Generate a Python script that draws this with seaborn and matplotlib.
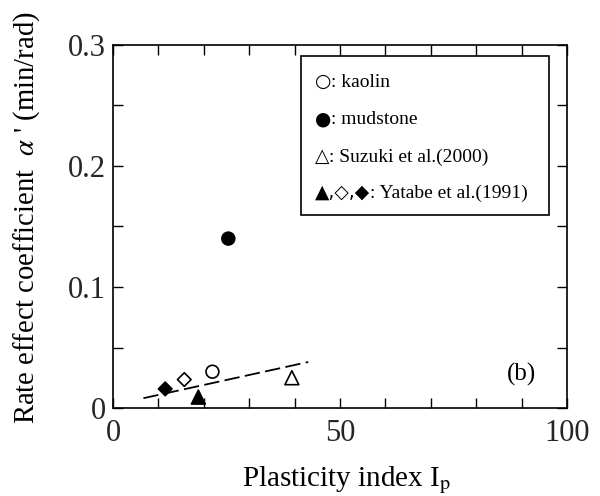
import matplotlib
matplotlib.use("Agg")
import matplotlib.pyplot as plt
from matplotlib.patches import Rectangle
from matplotlib.ticker import MultipleLocator, FixedLocator, FixedFormatter
import seaborn as sns
import pandas as pd

# ---- data ----
plasticity = [21.9, 25.4, 39.4, 18.8, 15.7, 11.5]
alpha_coef = [0.030, 0.140, 0.025, 0.009, 0.0235, 0.0158]
fill_kind = ["open", "filled", "open", "filled", "open", "filled"]
shape_kind = ["circle", "circle", "triangle", "triangle", "diamond", "diamond"]

trend_x = [6.7, 43.0]
trend_y = [0.0081, 0.0380]

legend_symbols = ["○", "●", "△", "▲,◇,◆"]
legend_names = [": kaolin", ": mudstone", ": Suzuki et al.(2000)",
                ": Yatabe et al.(1991)"]
x_tick_vals = [0, 50, 100]
x_tick_text = ["0", "50", "100"]
y_tick_vals = [0, 0.1, 0.2, 0.3]
y_tick_text = ["0", "0.1", "0.2", "0.3"]

df = pd.DataFrame({"Ip": plasticity, "alpha": alpha_coef,
                   "fill": fill_kind, "shape": shape_kind})
trend = pd.DataFrame({"Ip": trend_x, "alpha": trend_y})

sns.set_theme(style="white")
plt.rcParams["font.family"] = ["Liberation Serif", "DejaVu Sans"]
plt.rcParams["mathtext.fontset"] = "stix"

fig = plt.figure(figsize=(6.0, 4.96), dpi=100)
ax = fig.add_axes([113 / 600, 1 - 408 / 496, (567 - 113) / 600, (408 - 45) / 496])

sns.lineplot(data=trend, x="Ip", y="alpha", ax=ax, color="black",
             linewidth=1.3, dashes=False, legend=False)
ax.lines[-1].set_dashes((8.5, 3.0))

sns.scatterplot(data=df, x="Ip", y="alpha", hue="fill", style="shape",
                size="shape",
                sizes={"circle": 85, "triangle": 100, "diamond": 48},
                palette={"open": "white", "filled": "black"},
                markers={"circle": "o", "triangle": "^", "diamond": "D"},
                edgecolor="black", linewidth=1.2, ax=ax, legend=False,
                zorder=3)

ax.set_xlim(0, 100)
ax.set_ylim(0, 0.3)
ax.xaxis.set_major_locator(FixedLocator(x_tick_vals))
ax.xaxis.set_major_formatter(FixedFormatter(x_tick_text))
ax.xaxis.set_minor_locator(MultipleLocator(10))
ax.yaxis.set_major_locator(FixedLocator(y_tick_vals))
ax.yaxis.set_major_formatter(FixedFormatter(y_tick_text))
ax.yaxis.set_minor_locator(MultipleLocator(0.05))

ax.tick_params(axis="both", which="both", direction="in", top=True, right=True,
               bottom=True, left=True, color="black", width=1.0, length=7)
ax.tick_params(axis="x", which="major", labelsize=22, pad=8)
ax.tick_params(axis="y", which="major", labelsize=22, pad=5)
for sp in ax.spines.values():
    sp.set_color("black")
    sp.set_linewidth(1.2)

ax.set_xlabel(r"Plasticity index I$_\mathrm{p}$", fontsize=21, color="black")
ax.xaxis.set_label_coords(0.515, -0.155)
ax.set_ylabel(r"Rate effect coefficient  $\alpha$ ' (min/rad)", fontsize=20.6,
              color="black")
ax.yaxis.set_label_coords(-0.157, 0.525)

ax.text(90, 0.028, "(b)", fontsize=18, ha="center", va="center", color="black")

# legend box drawn as a framed panel with symbol + label texts
x0, x1 = (301 - 113) / 454, (549 - 113) / 454
y0, y1 = (408 - 215) / 363, (408 - 56) / 363
ax.add_patch(Rectangle((x0, y0), x1 - x0, y1 - y0, transform=ax.transAxes,
                       facecolor="white", edgecolor="black", linewidth=1.2,
                       zorder=5))
row_base = [(408 - 87) / 363, (408 - 124.5) / 363, (408 - 162) / 363,
            (408 - 198) / 363]
sym_x = (315 - 113) / 454
for sym, name, yb in zip(legend_symbols, legend_names, row_base):
    t = ax.text(sym_x, yb, sym, transform=ax.transAxes, fontsize=13.5,
                family=["DejaVu Sans"], va="baseline", ha="left",
                color="black", zorder=6)
    ax.annotate(name, xy=(1, yb), xycoords=(t, "axes fraction"),
                fontsize=14, family=["Liberation Serif"], va="baseline",
                ha="left", color="black", zorder=6)

fig.savefig("out.png", dpi=100)
